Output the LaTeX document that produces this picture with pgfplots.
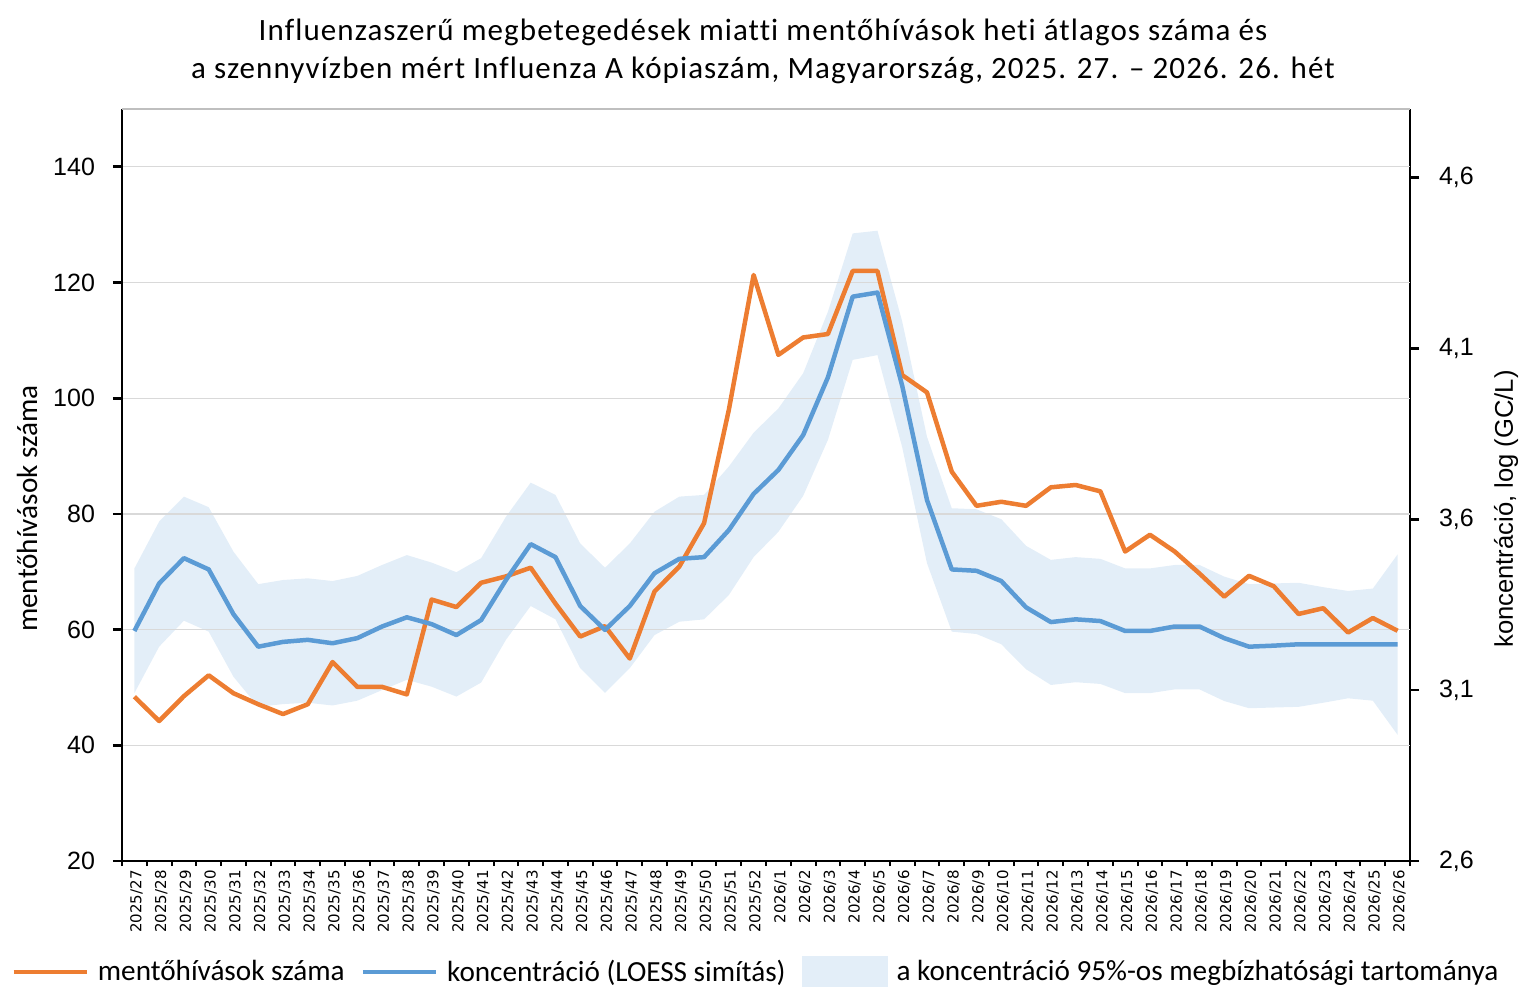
\documentclass[border=0pt]{standalone}
\usepackage{fontspec}
\setmainfont{Carlito}[Ligatures=NoCommon]
\newfontfamily\titlef{Carlito}[Ligatures=NoCommon, LetterSpace=3.5]
\newfontfamily\arialf{Liberation Sans}
\newfontfamily\verdf{DejaVu Sans}
\usepackage{pgfplots}
\pgfplotsset{compat=1.18}
\usepackage{pgfplotstable}
\usepgfplotslibrary{fillbetween}

\definecolor{callsorange}{HTML}{ED7D31}
\definecolor{concblue}{HTML}{5B9BD5}
\definecolor{gridgray}{HTML}{D9D9D9}
\definecolor{framegray}{HTML}{BFBFBF}

% week index, ambulance calls, LOESS log concentration, 95% band
\pgfplotstableread{
i  calls  conc   hi     lo
0  48.4   3.273  3.456  3.091
1  44.2   3.412  3.593  3.227
2  48.5   3.486  3.666  3.303
3  52.1   3.453  3.635  3.271
4  49.0   3.322  3.505  3.139
5  47.1   3.227  3.410  3.051
6  45.4   3.241  3.422  3.059
7  47.1   3.247  3.427  3.063
8  54.4   3.237  3.419  3.055
9  50.1   3.252  3.434  3.069
10 50.1   3.286  3.466  3.100
11 48.8   3.313  3.495  3.130
12 65.2   3.293  3.473  3.110
13 63.9   3.261  3.445  3.081
14 68.1   3.305  3.486  3.122
15 69.2   3.422  3.607  3.247
16 70.7   3.527  3.707  3.346
17 64.5   3.489  3.671  3.307
18 58.8   3.346  3.529  3.164
19 60.6   3.276  3.458  3.092
20 55.0   3.346  3.529  3.164
21 66.6   3.442  3.622  3.261
22 70.9   3.484  3.666  3.300
23 78.4   3.489  3.671  3.307
24 98.0   3.568  3.754  3.378
25 121.3  3.674  3.853  3.489
26 107.5  3.744  3.924  3.563
27 110.5  3.846  4.027  3.668
28 111.1  4.015  4.207  3.832
29 122.0  4.251  4.436  4.066
30 122.0  4.263  4.444  4.080
31 104.0  3.990  4.178  3.810
32 101.0  3.656  3.841  3.471
33 87.3   3.453  3.632  3.271
34 81.4   3.449  3.629  3.264
35 82.1   3.419  3.600  3.234
36 81.4   3.342  3.522  3.161
37 84.6   3.299  3.481  3.115
38 85.0   3.307  3.489  3.123
39 83.9   3.302  3.484  3.118
40 73.5   3.273  3.456  3.091
41 76.4   3.273  3.456  3.091
42 73.5   3.286  3.466  3.102
43 69.7   3.286  3.466  3.102
44 65.7   3.252  3.432  3.068
45 69.3   3.227  3.410  3.047
46 67.5   3.230  3.412  3.049
47 62.7   3.234  3.414  3.051
48 63.7   3.234  3.401  3.063
49 59.5   3.234  3.390  3.076
50 62.0   3.234  3.397  3.069
51 59.8   3.234  3.497  2.969
}\fludata

\pgfplotsset{
  frame/.style={scale only axis, width=644pt, height=376pt,
    at={(61pt,68pt)}, anchor=south west, xmin=-0.5, xmax=51.5},
  leftscale/.style={ymin=20, ymax=150},
  rightscale/.style={ymin=2.6, ymax=4.8},
  linelegend/.style={legend image code/.code={
      \draw[##1, line width=2.25pt] (0pt,0pt) -- (36.5pt,0pt);}},
  bandlegend/.style={legend image code/.code={
      \fill[##1, draw=none] (0pt,-7.75pt) rectangle (43pt,7.75pt);}},
}

\begin{document}
\begin{tikzpicture}

% left scale: frame, grid, week labels
\begin{axis}[frame, leftscale,
  axis x line*=bottom, axis y line*=left,
  axis line style={-, black, line width=1.35pt},
  ytick={20,40,...,140},
  ymajorgrids, grid style={gridgray, line width=0.6pt},
  tick align=outside,
  y tick style={black, line width=1.35pt},
  major tick length=4.5pt,
  xtick={0,...,51},
  x tick style={draw=none},
  xticklabels={2025/27,2025/28,2025/29,2025/30,2025/31,2025/32,2025/33,2025/34,2025/35,2025/36,2025/37,2025/38,2025/39,2025/40,2025/41,2025/42,2025/43,2025/44,2025/45,2025/46,2025/47,2025/48,2025/49,2025/50,2025/51,2025/52,2026/1,2026/2,2026/3,2026/4,2026/5,2026/6,2026/7,2026/8,2026/9,2026/10,2026/11,2026/12,2026/13,2026/14,2026/15,2026/16,2026/17,2026/18,2026/19,2026/20,2026/21,2026/22,2026/23,2026/24,2026/25,2026/26},
  x tick label style={rotate=90, anchor=east, inner sep=0pt, yshift=-1pt,
    font=\verdf\fontsize{7.5}{8}\selectfont},
  y tick label style={font=\arialf\fontsize{12.5}{14}\selectfont, xshift=-5.5pt},
  /pgf/number format/assume math mode=true,
  after end axis/.code={
    \draw[framegray, line width=1pt] (rel axis cs:0,1) -- (rel axis cs:1,1);},
]
% invisible pass so the frame axis has a plot to size itself on
\addplot[draw=none, forget plot] table[x=i, y=calls] {\fludata};
\end{axis}

% right scale: confidence band and right axis
\begin{axis}[frame, rightscale,
  axis x line=none, axis y line*=right,
  axis line style={-, black, line width=1.35pt},
  ytick={2.6,3.1,3.6,4.1,4.6},
  tick align=outside,
  y tick style={black, line width=1.35pt},
  major tick length=4.5pt,
  y tick label style={font=\arialf\fontsize{12.5}{14}\selectfont, xshift=6.5pt},
  yticklabel style={/pgf/number format/.cd, fixed, fixed zerofill, precision=1, use comma},
  /pgf/number format/assume math mode=true,
]
\addplot[name path=up, draw=none, forget plot] table[x=i, y=hi] {\fludata};
\addplot[name path=lo, draw=none, forget plot] table[x=i, y=lo] {\fludata};
\addplot[fill=concblue, fill opacity=0.17, draw=none, forget plot] fill between[of=up and lo];
\end{axis}

% left scale: ambulance calls, boundary ticks on the week axis
\begin{axis}[frame, leftscale,
  axis y line=none, axis x line*=bottom,
  x axis line style={draw=none},
  xtick={-0.5,0.5,...,51.5}, xticklabels={},
  tick align=outside, major tick length=2.5pt,
  x tick style={black, line width=1pt},
]
\addplot[callsorange, line width=2.25pt, line join=round] table[x=i, y=calls] {\fludata};
\end{axis}

% right scale: LOESS line and legend
\begin{axis}[frame, rightscale,
  axis lines=none,
  legend columns=-1,
  legend style={at={(-0.0862,-0.1476)}, anchor=west, draw=none, fill=none,
    inner sep=0pt, font=\fontsize{14.6}{16}\selectfont,
    nodes={inner sep=0pt},
    /tikz/every odd column/.append style={column sep=4.5pt},
    /tikz/every even column/.append style={column sep=8pt}},
]
\addlegendimage{linelegend, callsorange}
\addlegendentry{mentőhívások száma}
\addplot[concblue, line width=2.25pt, line join=round, linelegend] table[x=i, y=conc] {\fludata};
\addlegendentry{koncentráció (LOESS simítás)}
\addlegendimage{bandlegend, fill=concblue, fill opacity=0.17}
\addlegendentry{a koncentráció 95\%-os megbízhatósági tartománya}
\end{axis}

\node[font=\titlef\fontsize{15.5}{17}\selectfont] at (381.5pt,482.5pt)
  {Influenzaszerű megbetegedések miatti mentőhívások heti átlagos száma és};
\node[font=\titlef\fontsize{15.5}{17}\selectfont] at (381.5pt,463.5pt)
  {a szennyvízben mért Influenza A kópiaszám, Magyarország, 2025. 27. – 2026. 26. hét};
\node[rotate=90, font=\fontsize{14.6}{16}\selectfont] at (13.5pt,244.25pt) {mentőhívások száma};
\node[rotate=90, font=\arialf\fontsize{12.8}{14}\selectfont] at (753pt,244pt) {koncentráció, log (GC/L)};

% fixed page area
\pgfresetboundingbox
\path[use as bounding box] (0,0) rectangle (763pt,498.5pt);
\end{tikzpicture}
\end{document}
